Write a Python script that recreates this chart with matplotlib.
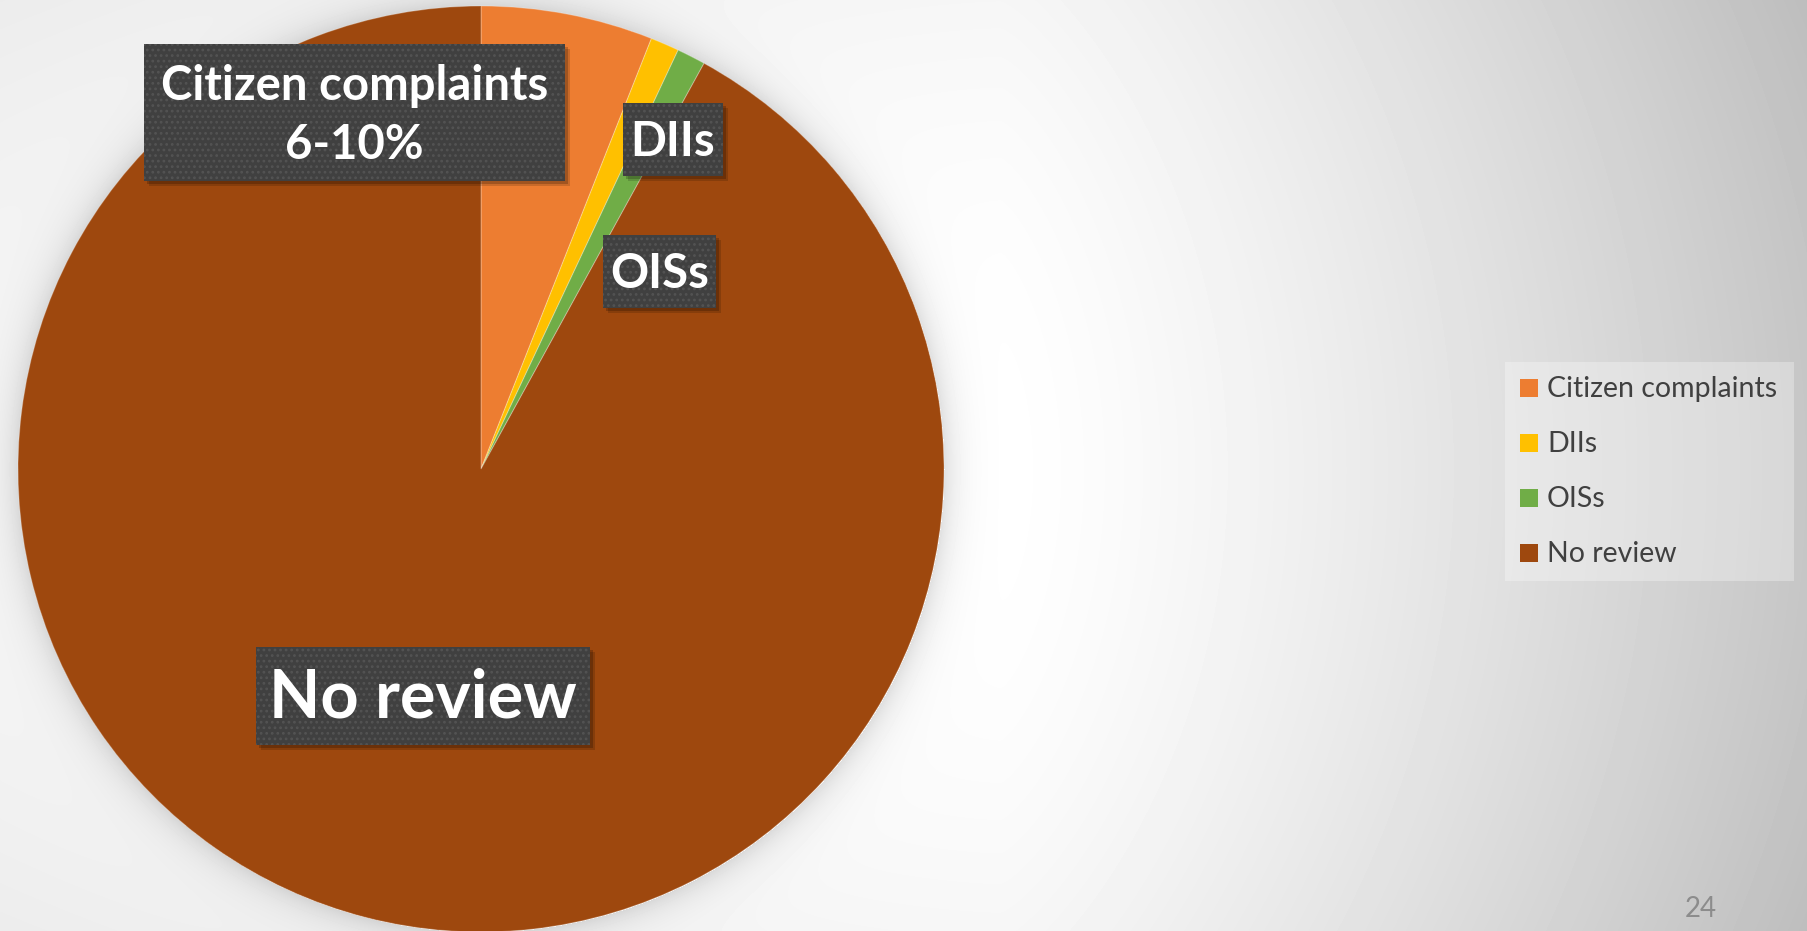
import matplotlib
matplotlib.use("Agg")
import matplotlib.pyplot as plt
from matplotlib.patches import Rectangle
import numpy as np

# data
categories = ['Citizen complaints', 'DIIs', 'OISs', 'No review']
values = [6, 1, 1, 92]
colors = ['#ED7D31', '#FFC000', '#70AD47', '#9E480E']
slice_labels = ['Citizen complaints\n6-10%', 'DIIs', 'OISs', 'No review']
page_number = '24'

W, H = 1808, 931
FONT = 'Lato'

fig = plt.figure(figsize=(W / 100, H / 100), dpi=100)

# background: soft grey gradient, white in the middle, plus the pie's shadow
yy, xx = np.mgrid[0:H, 0:W].astype(float)
right = np.clip((xx - 1000) / 808, 0, None) ** 1.3 * 57
left = np.clip((1000 - xx) / 1000, 0, None) ** 1.5 * 10
vert = (np.abs(yy - 470) / 470) ** 2 * 9
bg = 255 - right - left - vert
cx, cy, r = 481, 469, 463
dist = np.hypot(xx - cx, yy - cy)
bg -= np.where(dist > r, 30 * np.exp(-(dist - r) / 16), 0)
bg = np.clip(bg, 0, 255)

ax_bg = fig.add_axes([0, 0, 1, 1], zorder=0)
ax_bg.imshow(bg, cmap='gray', vmin=0, vmax=255, extent=(0, W, H, 0), interpolation='bilinear')
ax_bg.set_xlim(0, W)
ax_bg.set_ylim(H, 0)
ax_bg.axis('off')

# pie
ax = fig.add_axes([(cx - r) / W, (H - cy - r) / H, 2 * r / W, 2 * r / H], zorder=1)
wedges, _ = ax.pie(values, colors=colors, startangle=90, counterclock=False,
                   wedgeprops=dict(edgecolor=(1, 1, 1, 0.25), linewidth=0.8))
ax.set_xlim(-1, 1)
ax.set_ylim(-1, 1)
ax.axis('off')

# overlay in pixel coords for data labels and legend
ov = fig.add_axes([0, 0, 1, 1], zorder=3)
ov.set_xlim(0, W)
ov.set_ylim(H, 0)
ov.axis('off')
ov.patch.set_alpha(0)

plt.rcParams['hatch.linewidth'] = 1.2

# label boxes: (x0, y0, x1, y1) in pixels, font size
boxes = [(144, 44, 565, 181, 34), (623, 103, 723, 176, 34),
         (603, 235, 716, 308, 34), (256, 647, 590, 745, 48)]
for text, (x0, y0, x1, y1, fs) in zip(slice_labels, boxes):
    ov.add_patch(Rectangle((x0 + 5, y0 + 5), x1 - x0, y1 - y0, color='black', alpha=0.15, lw=0))
    ov.add_patch(Rectangle((x0 + 3, y0 + 3), x1 - x0, y1 - y0, color='black', alpha=0.2, lw=0))
    ov.add_patch(Rectangle((x0, y0), x1 - x0, y1 - y0, facecolor='#404040',
                           edgecolor='#535353', hatch='...', lw=0))
    ov.text((x0 + x1) / 2, (y0 + y1) / 2 + 3, text, color='white', fontsize=fs,
            fontweight='bold', family=FONT, ha='center', va='center', linespacing=1.4)

# legend
ov.add_patch(Rectangle((1505, 362), 289, 219, facecolor='white', alpha=0.3, lw=0))
for i, (name, c) in enumerate(zip(categories, colors)):
    yc = 388 + i * 55
    ov.add_patch(Rectangle((1520, yc - 9), 18, 18, color=c, lw=0))
    ov.text(1547, yc + 1, name, color='#404040', fontsize=20.5, family=FONT,
            ha='left', va='center')

ov.text(1701, 917, page_number, color='#8c8c8c', fontsize=20, family=FONT,
        ha='center', va='baseline')

fig.savefig('out.png', dpi=100)
